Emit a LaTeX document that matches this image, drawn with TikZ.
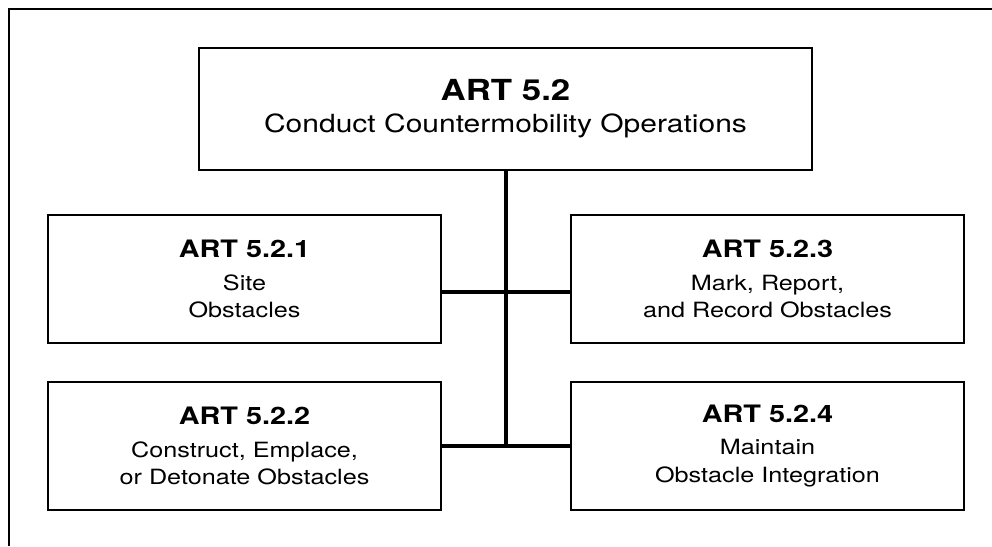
\documentclass[tikz,border=0pt]{standalone}
\usepackage{fontspec}
\setmainfont{TeX Gyre Heros}[FakeStretch=1.2]
\usepackage{tikz}
\usetikzlibrary{positioning}

\tikzset{
  artbox/.style={draw, line width=2pt, minimum width=393pt, minimum height=128pt,
    align=center, inner sep=0pt, font=\fontsize{21}{27.5}\selectfont},
  topbox/.style={draw, line width=2pt, minimum width=613pt, minimum height=122pt,
    align=center, inner sep=0pt, font=\fontsize{25}{30}\selectfont},
  trunk/.style={line width=4.5pt},
  frame/.style={line width=2pt}
}
\newcommand{\artno}[1]{{\fontsize{24}{28}\selectfont\bfseries #1}}

\begin{document}
\begin{tikzpicture}[x=1pt,y=-1pt]
\useasboundingbox (0,0) rectangle (992,546);

% open frame
\draw[frame] (9,546) -- (9,9) -- (992,9);

\node[topbox] (art52) at (505.5,109) {{\fontsize{29}{32}\selectfont\bfseries ART 5.2}\\[2pt] Conduct Countermobility Operations};

\node[artbox] (art521) at (244.5,279) {\artno{ART 5.2.1}\\[5pt] Site\\Obstacles};
\node[artbox] (art523) at (767.5,279) {\artno{ART 5.2.3}\\[5pt] Mark, Report,\\and Record Obstacles};
\node[artbox] (art522) at (244.5,446) {\artno{ART 5.2.2}\\[5pt] Construct, Emplace,\\or Detonate Obstacles};
\node[artbox] (art524) at (767.5,446) {\artno{ART 5.2.4}\\[5pt] Maintain\\Obstacle Integration};

%Connectors
\coordinate (jmid) at (506,292);
\coordinate (jlow) at (506,446);
\draw[trunk] (art52.south -| jlow) -- (jlow);
\draw[trunk] (art521.east |- jmid) -- (art523.west |- jmid);
\draw[trunk] (art522) -- (art524);

\end{tikzpicture}
\end{document}
